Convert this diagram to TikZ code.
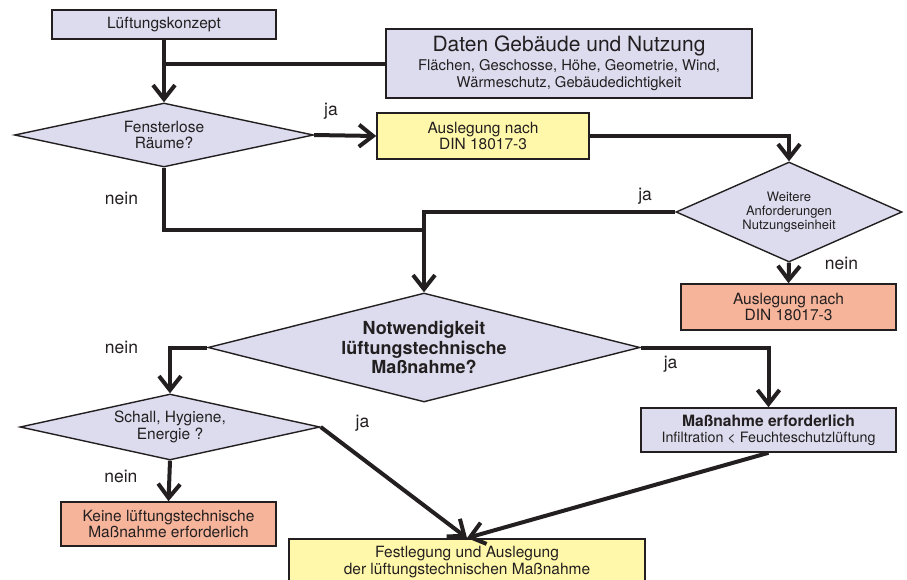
\documentclass[tikz,border=0pt]{standalone}
\usepackage{fontspec}
\setmainfont{TeX Gyre Heros}
\usetikzlibrary{arrows.meta,shapes.geometric}
\definecolor{lav}{RGB}{220,220,238}
\definecolor{pale}{RGB}{255,248,170}
\definecolor{salmon}{RGB}{246,180,154}
\definecolor{ink}{RGB}{35,31,32}
\tikzset{
  box/.style={draw=ink, line width=1.6pt, fill=lav, align=center, inner sep=0pt,
              text=ink, font=\fontsize{15.5}{16.5}\selectfont},
  ausl/.style={box, fill=pale},
  halt/.style={box, fill=salmon},
  query/.style={box, diamond, line width=1.4pt},
  flow/.style={-{Straight Barb[length=14pt,width=22pt]}, line width=4pt, draw=ink},
  link/.style={line width=4pt, draw=ink},
  lbl/.style={font=\fontsize{17.5}{19}\selectfont, inner sep=0pt, text=ink},
}

\begin{document}
\begin{tikzpicture}[x=1pt, y=-1pt]
  \useasboundingbox (0,0) rectangle (907,579);

  % Start and input data
  \node[box, minimum width=224pt, minimum height=29pt] (konzept) at (164,24.5) {Lüftungskonzept};
  \node[box, minimum width=366pt, minimum height=69pt, font=\fontsize{14.8}{16.5}\selectfont] (daten) at (569,63.5)
       {{\fontsize{21}{23}\selectfont Daten Gebäude und Nutzung}\\[2.5pt]Flächen, Geschosse, Höhe, Geometrie, Wind,\\Wärmeschutz, Gebäudedichtigkeit};

  % Windowless rooms
  \node[query, aspect=4.67, minimum width=299pt, minimum height=64pt] (fenster) at (164,135) {Fensterlose\\Räume?};
  \node[ausl, minimum width=212pt, minimum height=46pt] (din1) at (483,136) {Auslegung nach\\DIN 18017-3};
  \node[query, aspect=2.26, minimum width=226pt, minimum height=100pt, font=\fontsize{13}{14}\selectfont] (weitere) at (789,212)
       {Weitere\\Anforderungen\\Nutzungseinheit};
  \node[halt, minimum width=215pt, minimum height=46pt] (din2) at (788.5,307) {Auslegung nach\\DIN 18017-3};

  % Main decision
  \node[query, aspect=3.96, minimum width=432pt, minimum height=109pt, font=\bfseries\fontsize{18}{19.5}\selectfont] (notw) at (424,347.5)
       {Notwendigkeit\\lüftungstechnische\\Maßnahme?};
  \node[query, aspect=4.55, minimum width=300pt, minimum height=66pt] (schall) at (170,427) {Schall, Hygiene,\\Energie ?};
  \node[halt, minimum width=215pt, minimum height=44pt] (keine) at (168.5,524) {Keine lüftungstechnische\\Maßnahme erforderlich};
  \node[box, minimum width=255pt, minimum height=44pt, font=\fontsize{14.3}{16}\selectfont] (massn) at (768.5,430)
       {{\bfseries\fontsize{15.6}{16}\selectfont Maßnahme erforderlich}\\Infiltration < Feuchteschutzlüftung};
  \node[ausl, anchor=north, minimum width=356pt, minimum height=46pt] (fest) at (467,538)
       {Festlegung und Auslegung\\der lüftungstechnischen Maßnahme};

  \coordinate (merge) at (424,230);

  % Flows
  \draw[flow] (konzept.south) -- (fenster.north);
  \draw[link] (daten.west) -- (daten.west -| konzept.south);
  \draw[flow] (fenster.east) -- node[lbl, pos=0.27, above=14pt]{ja} (din1.west);
  \draw[flow] (din1.east) -| (weitere.north);
  \draw[link] (fenster.south) |- node[lbl, pos=0.245, left=24pt]{nein} (merge);
  \draw[flow] (weitere.west) -| node[lbl, pos=0.06, above=6pt]{ja} (notw.north);
  \draw[flow] (weitere.south) -- node[lbl, pos=0.05, right=34pt]{nein} (din2.north);
  \draw[flow] (notw.west) -| node[lbl, pos=0.5, left=30pt]{nein} (schall.north);
  \draw[flow] (notw.east) -| node[lbl, pos=0.117, below=7pt]{ja} (massn.north);
  \draw[flow] (schall.south) -- node[lbl, pos=0.38, left=30pt]{nein} (keine.north);
  \draw[flow] (schall.east) -- node[lbl, at start, anchor=base west, xshift=33pt]{ja} (fest.north);
  \draw[flow] (massn.south) -- (fest.north);

\end{tikzpicture}
\end{document}
